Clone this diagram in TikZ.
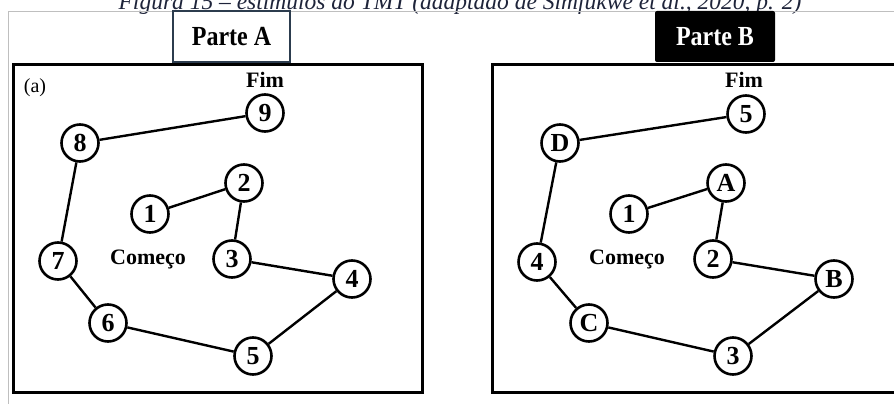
\documentclass[tikz,border=0pt]{standalone}
\usepackage{fontspec}
\setmainfont{Liberation Serif}
\definecolor{captionink}{RGB}{30,36,58}
\definecolor{tabedge}{RGB}{44,60,78}
\begin{document}
\begin{tikzpicture}[x=1pt,y=-1pt,
  stim/.style={circle, draw, line width=2.6pt, minimum size=37pt, inner sep=0pt,
    font=\fontsize{26}{26}\selectfont\bfseries},
  link/.style={line width=2.4pt},
  tag/.style={inner sep=0pt, font=\fontsize{22}{22}\selectfont\bfseries},
  panel/.style={line width=3pt},
  tab/.style={minimum height=51pt, inner sep=0pt,
    font=\fontsize{24}{24}\selectfont\bfseries}]
\useasboundingbox (0,0) rectangle (894,404);
\fill[white] (0,0) rectangle (894,404);

% caption line, partly above the page edge
\node[anchor=base, inner sep=0pt, text=captionink,
  font=\fontsize{23.5}{23.5}\selectfont\itshape] (cap) at (460,10)
  {Figura 15 -- estímulos do TMT (adaptado de Simfukwe et al., 2020, p. 2)};

% thin outer frame
\draw[black!25, line width=1pt] (8,404) -- (8,11.5) -- (894,11.5);

% part headers
\node[tab, draw=tabedge, line width=2pt, fill=white, minimum width=117pt] (partA) at (231.5,36.5) {\scalebox{1}[1.15]{Parte A}};
\node[tab, fill=black, text=white, rounded corners=2pt, minimum width=120pt] (partB) at (715,36.5) {\scalebox{1}[1.15]{Parte B}};

% panel frames
\draw[panel] (13,65) rectangle (422,392);
\draw[panel] (492,65) rectangle (910,392);

% ---- Part A ----
\node[inner sep=0pt, font=\fontsize{20}{20}\selectfont] (lblA) at (35,88) {(a)};
\node[tag, anchor=base] (fimA) at (265,88) {Fim};
\node[tag, anchor=base] (startA) at (148,264) {Começo};
\node[stim] (a9) at (265,113) {9};
\node[stim] (a8) at (80,143) {8};
\node[stim] (a2) at (244,183) {2};
\node[stim] (a1) at (150,214) {1};
\node[stim] (a7) at (58,261) {7};
\node[stim] (a3) at (232,259) {3};
\node[stim] (a4) at (352,279) {4};
\node[stim] (a6) at (108,323) {6};
\node[stim] (a5) at (253,356) {5};
\draw[link] (a1) -- (a2) -- (a3) -- (a4) -- (a5) -- (a6) -- (a7) -- (a8) -- (a9);

% ---- Part B ----
\node[tag, anchor=base] (fimB) at (744,88) {Fim};
\node[tag, anchor=base] (startB) at (627,264) {Começo};
\node[stim] (b5) at (746,114) {5};
\node[stim] (bD) at (560,143) {D};
\node[stim] (bA) at (726,183) {A};
\node[stim] (b1) at (629,214) {1};
\node[stim] (b4) at (537,262) {4};
\node[stim] (b2) at (713,259) {2};
\node[stim] (bB) at (834,279) {B};
\node[stim] (bC) at (589,323) {C};
\node[stim] (b3) at (733,356) {3};
\draw[link] (b1) -- (bA) -- (b2) -- (bB) -- (b3) -- (bC) -- (b4) -- (bD) -- (b5);
\end{tikzpicture}
\end{document}
